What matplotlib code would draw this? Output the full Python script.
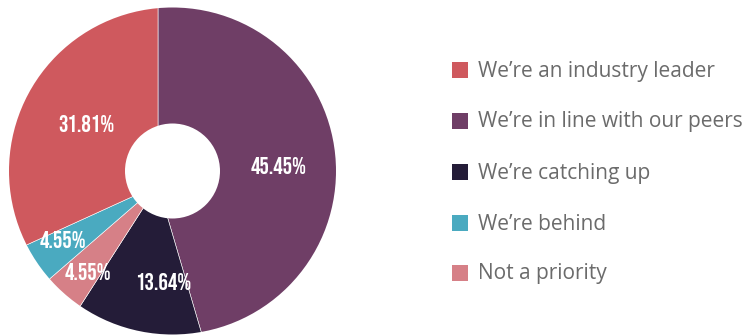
import matplotlib
matplotlib.use("Agg")
import matplotlib.pyplot as plt
from matplotlib.patches import Circle, Rectangle

# Survey responses (share of respondents, %)
categories = [
    "We\u2019re an industry leader",
    "We\u2019re in line with our peers",
    "We\u2019re catching up",
    "We\u2019re behind",
    "Not a priority",
]
shares = [31.81, 45.45, 13.64, 4.55, 4.55]
colors = ["#CF595E", "#6F3E66", "#241C38", "#4AAAC0", "#D68087"]

# Slices run clockwise from 12 o'clock in this order
pie_order = [1, 2, 4, 3, 0]

W, H = 748, 336
fig = plt.figure(figsize=(W / 100, H / 100), dpi=100)
ax = fig.add_axes([0, 0, 1, 1])

ring_center = (172.5, H - 171)
ring_radius = 163.5
hole_radius = 47.5
apex = (158, H - 185)

wedges, _ = ax.pie(
    [shares[i] for i in pie_order],
    colors=[colors[i] for i in pie_order],
    startangle=90,
    counterclock=False,
    center=apex,
    radius=400,
    wedgeprops=dict(linewidth=0.4, edgecolor="white"),
)
outline = Circle(ring_center, ring_radius, facecolor="none", edgecolor="none")
ax.add_patch(outline)
for w in wedges:
    w.set_clip_on(True)
    w.set_clip_path(outline)

ax.add_patch(Circle(ring_center, hole_radius, facecolor="white", edgecolor="none", zorder=3))

# Percentage labels
label_font = ["Bebas Neue", "Oswald", "Barlow Condensed", "DejaVu Sans"]
label_pos = {0: (86, 123), 1: (279, 165), 2: (163, 281), 3: (63, 239), 4: (88, 271)}
for i, (x, y) in label_pos.items():
    ax.text(x, H - y, f"{shares[i]:.2f}%", ha="center", va="center",
            color="white", fontsize=17, fontweight="bold",
            family=label_font, zorder=4)

# Legend
row_y = [70, 121, 172, 223, 273]
for i, (name, y) in enumerate(zip(categories, row_y)):
    ax.add_patch(Rectangle((452, H - y - 8), 16, 16, facecolor=colors[i], edgecolor="none"))
    ax.text(478, H - y - 1, name, ha="left", va="center", color="#6B6B6B",
            fontsize=15, family=["Open Sans", "DejaVu Sans"])

ax.set_xlim(0, W)
ax.set_ylim(0, H)
ax.set_aspect("equal")
ax.axis("off")

fig.savefig("out.png", dpi=100, facecolor="white")
